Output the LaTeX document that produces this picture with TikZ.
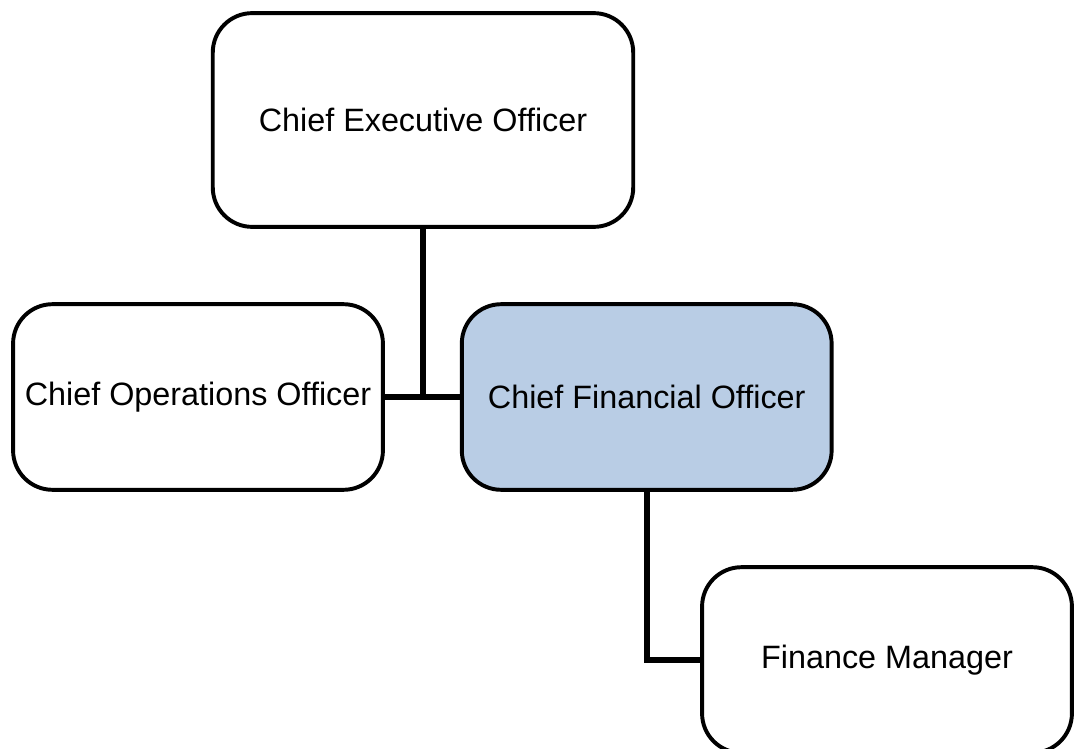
\documentclass[tikz,border=0pt]{standalone}
\usepackage{fontspec}
\setmainfont{Liberation Sans}
\usetikzlibrary{positioning}
\definecolor{cfoblue}{HTML}{B9CDE5}

\tikzset{
  post/.style={draw=black, line width=2.8pt, rounded corners=28pt, fill=white,
    minimum width=263pt, minimum height=132pt, inner sep=0pt, font=\fontsize{23}{27}\selectfont},
  bigpost/.style={post, minimum width=299pt, minimum height=152pt},
  link/.style={draw=black, line width=4.3pt},
}

\begin{document}
\begin{tikzpicture}[x=0.025cm, y=-0.025cm]
  \clip (0,0) rectangle (1074,749);
  \useasboundingbox (0,0) rectangle (1074,749);
  % Define posts
  \node[bigpost]                  (ceo) at (423,120) {Chief Executive Officer};
  \node[post]                     (coo) at (198,397) {Chief Operations Officer};
  \node[post, fill=cfoblue, right=53.3pt of coo] (cfo) {Chief Financial Officer};
  \node[post]                     (fm)  at (887,660) {Finance Manager};
  % Define links
  \draw[link] (ceo.south) -- (ceo.south |- coo.east);
  \draw[link] (coo.east) -- (cfo.west);
  \draw[link] (cfo.south) |- (fm.west);
\end{tikzpicture}
\end{document}
